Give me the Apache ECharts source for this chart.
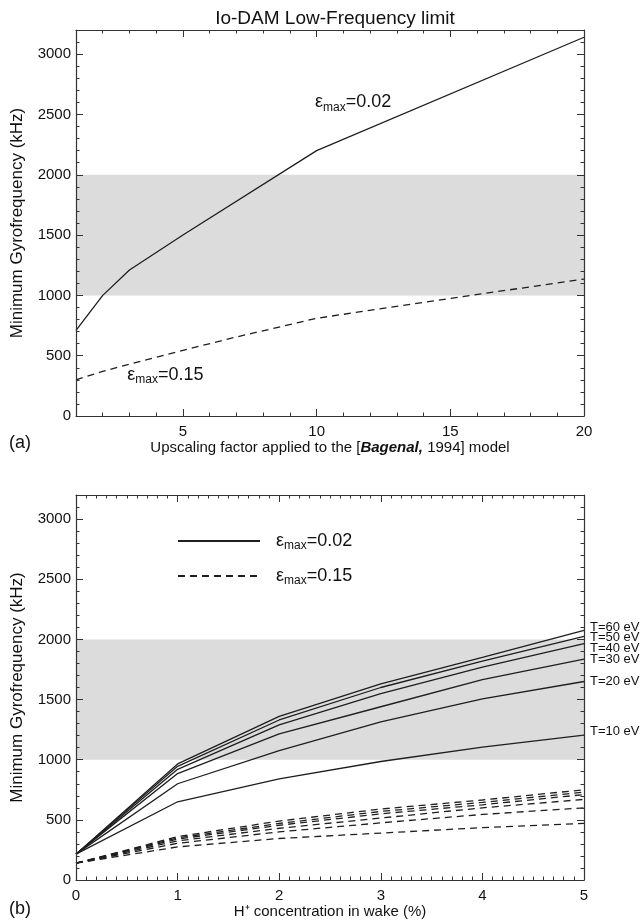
<!DOCTYPE html>
<html><head><meta charset="utf-8">
<script src="https://cdn.jsdelivr.net/npm/echarts@6/dist/echarts.min.js"></script>
<style>html,body{margin:0;padding:0;background:#fff}#c{width:640px;height:921px}</style>
</head><body><div id="c"></div>
<script>
// ---------- DATA ----------
// Panel (a): upscaling factor vs minimum gyrofrequency (kHz)
const aXSolid = [1, 2, 3, 5, 10, 20];
const aYSolid = [710, 1000, 1210, 1500, 2200, 3140];
const aXDash = [1, 2, 3, 5, 7, 10, 15, 20];
const aYDash = [300, 370, 430, 545, 655, 810, 975, 1135];
const aXTicks = [5, 10, 15, 20];
// Panel (b): H+ concentration (%) vs minimum gyrofrequency (kHz)
const bX = [0, 1, 2, 3, 4, 5];
const bXTicks = [0, 1, 2, 3, 4, 5];
const tempLabels = ['T=60 eV', 'T=50 eV', 'T=40 eV', 'T=30 eV', 'T=20 eV', 'T=10 eV'];
const bSolid60 = [215, 965, 1360, 1630, 1850, 2075];
const bSolid50 = [215, 945, 1330, 1600, 1820, 2025];
const bSolid40 = [215, 920, 1290, 1550, 1770, 1965];
const bSolid30 = [215, 885, 1215, 1440, 1665, 1835];
const bSolid20 = [215, 800, 1075, 1315, 1505, 1650];
const bSolid10 = [215, 650, 840, 985, 1105, 1205];
const bDash60 = [140, 360, 490, 590, 665, 750];
const bDash50 = [140, 350, 470, 570, 645, 730];
const bDash40 = [140, 340, 455, 550, 625, 710];
const bDash30 = [140, 325, 430, 515, 600, 670];
const bDash20 = [140, 305, 400, 475, 545, 600];
const bDash10 = [140, 275, 345, 390, 435, 470];
const yTicks = [0, 500, 1000, 1500, 2000, 2500, 3000];
const band = [1000, 2000];
const epsNames = ['εmax=0.02', 'εmax=0.15'];
const epsValues = ['0.02', '0.15'];

// ---------- STYLE ----------
const FONT = '"Liberation Sans", Arial, Helvetica, sans-serif';
const AX = '#333';
const LINE = '#1e1e1e';
const TXT = '#111';
const labelNudge = [-3, 1, 5, 0, 0, -4];

const chart = echarts.init(document.getElementById('c'));

function epsRich(v) { return '{e|ε}{s|max}{e|=' + v + '}'; }
const rich = {
  e: { fontFamily: FONT, fontSize: 18, color: TXT, lineHeight: 20 },
  s: { fontFamily: FONT, fontSize: 12, color: TXT, lineHeight: 12, padding: [10, 0, 0, 0] }
};
const plain = function (v) { return String(v); };

function axesX(gi, min, max, major, minorInt, name) {
  const c = { type: 'value', gridIndex: gi, min: min, max: max, splitLine: { show: false }, z: 5, silent: true };
  const line = { show: true, onZero: false, lineStyle: { color: AX, width: 1.2 } };
  const noLine = { show: false, onZero: false };
  return [
    Object.assign({}, c, { position: 'bottom', axisLine: line,
      name: name, nameLocation: 'middle', nameGap: 24, nameMoveOverlap: false,
      nameTextStyle: { fontFamily: FONT, fontSize: 15, color: TXT },
      axisTick: { show: true, inside: true, length: 7, customValues: major, lineStyle: { color: AX } },
      axisLabel: { show: true, customValues: major, margin: 8, formatter: plain, fontFamily: FONT, fontSize: 15, color: TXT } }),
    Object.assign({}, c, { position: 'bottom', interval: minorInt, axisLine: noLine,
      axisTick: { show: true, inside: true, length: 3.5, lineStyle: { color: AX } }, axisLabel: { show: false } }),
    Object.assign({}, c, { position: 'top', axisLine: line,
      axisTick: { show: true, inside: true, length: 7, customValues: major, lineStyle: { color: AX } }, axisLabel: { show: false } }),
    Object.assign({}, c, { position: 'top', interval: minorInt, axisLine: noLine,
      axisTick: { show: true, inside: true, length: 3.5, lineStyle: { color: AX } }, axisLabel: { show: false } })
  ];
}
function axesY(gi) {
  const c = { type: 'value', gridIndex: gi, min: 0, max: 3200, splitLine: { show: false }, z: 5, silent: true };
  const line = { show: true, onZero: false, lineStyle: { color: AX, width: 1.2 } };
  const noLine = { show: false, onZero: false };
  return [
    Object.assign({}, c, { position: 'left', axisLine: line,
      name: 'Minimum Gyrofrequency (kHz)', nameLocation: 'middle', nameGap: 50, nameMoveOverlap: false,
      nameTextStyle: { fontFamily: FONT, fontSize: 17, color: TXT },
      axisTick: { show: true, inside: true, length: 7, customValues: yTicks, lineStyle: { color: AX } },
      axisLabel: { show: true, customValues: yTicks, margin: 5, formatter: plain, fontFamily: FONT, fontSize: 15, color: TXT } }),
    Object.assign({}, c, { position: 'left', interval: 100, axisLine: noLine,
      axisTick: { show: true, inside: true, length: 3.5, lineStyle: { color: AX } }, axisLabel: { show: false } }),
    Object.assign({}, c, { position: 'right', axisLine: line,
      axisTick: { show: true, inside: true, length: 7, customValues: yTicks, lineStyle: { color: AX } }, axisLabel: { show: false } }),
    Object.assign({}, c, { position: 'right', interval: 100, axisLine: noLine,
      axisTick: { show: true, inside: true, length: 3.5, lineStyle: { color: AX } }, axisLabel: { show: false } })
  ];
}

const xAxis = [].concat(
  axesX(0, 1, 20, aXTicks, 1, 'Upscaling factor applied to the [Bagenal, 1994] model'),
  axesX(1, 0, 5, bXTicks, 0.1, 'H\u207A concentration in wake (%)')
);
// italic bold "Bagenal"
xAxis[0].name = '{n|Upscaling factor applied to the [}{b|Bagenal,}{n| 1994] model}';
xAxis[0].nameTextStyle = Object.assign({}, xAxis[0].nameTextStyle, { rich: {
  n: { fontFamily: FONT, fontSize: 15, color: TXT },
  b: { fontFamily: FONT, fontSize: 15, color: TXT, fontWeight: 'bold', fontStyle: 'italic' }
} });
const yAxis = [].concat(axesY(0), axesY(1));

function pairs(xs, ys) { return xs.map(function (x, i) { return [x, ys[i]]; }); }

function annot(coord, v) {
  return {
    symbol: 'rect', symbolSize: 1, silent: true,
    itemStyle: { color: 'rgba(0,0,0,0)' },
    label: { show: true, position: 'right', distance: 0, formatter: epsRich(v), rich: rich },
    data: [{ coord: coord }]
  };
}
const bandArea = {
  silent: true, itemStyle: { color: '#dcdcdc' },
  data: [[{ yAxis: band[0] }, { yAxis: band[1] }]]
};

const series = [
  { name: 'a-solid', type: 'line', xAxisIndex: 0, yAxisIndex: 0, symbol: 'none', z: 3,
    data: pairs(aXSolid, aYSolid), itemStyle: { color: LINE }, lineStyle: { color: LINE, width: 1.3 },
    markArea: bandArea, markPoint: annot([9.92, 2600], epsValues[0]) },
  { name: 'a-dash', type: 'line', xAxisIndex: 0, yAxisIndex: 0, symbol: 'none', z: 3,
    data: pairs(aXDash, aYDash), itemStyle: { color: LINE }, lineStyle: { color: LINE, width: 1.3, type: [7, 5] },
    markPoint: annot([2.9, 340], epsValues[1]) }
];

const solids = [bSolid60, bSolid50, bSolid40, bSolid30, bSolid20, bSolid10];
const dashes = [bDash60, bDash50, bDash40, bDash30, bDash20, bDash10];
solids.forEach(function (ys, i) {
  const s = { name: epsNames[0], type: 'line', xAxisIndex: 4, yAxisIndex: 4, symbol: 'none', z: 3,
    data: pairs(bX, ys), itemStyle: { color: LINE }, lineStyle: { color: LINE, width: 1.3 },
    endLabel: { show: true, formatter: tempLabels[i], distance: 6, offset: [0, labelNudge[i]],
      fontFamily: FONT, fontSize: 13, color: TXT } };
  if (i === 0) s.markArea = bandArea;
  series.push(s);
});
dashes.forEach(function (ys) {
  series.push({ name: epsNames[1], type: 'line', xAxisIndex: 4, yAxisIndex: 4, symbol: 'none', z: 3,
    data: pairs(bX, ys), itemStyle: { color: LINE }, lineStyle: { color: LINE, width: 1.3, type: [7, 5] } });
});

chart.setOption({
  animation: false,
  backgroundColor: '#fff',
  title: { text: 'Io-DAM Low-Frequency limit', left: 330, top: 4, textAlign: 'center',
    textStyle: { fontFamily: FONT, fontSize: 19, fontWeight: 'normal', color: TXT } },
  grid: [
    { left: 76, right: 56, top: 30, height: 386 },
    { left: 76, right: 56, top: 495, height: 385 }
  ],
  legend: {
    show: true, orient: 'vertical', left: 177, top: 530, padding: 0,
    itemWidth: 82, itemHeight: 14, itemGap: 13, selectedMode: false,
    itemStyle: { opacity: 0, borderWidth: 0 },
    data: epsNames,
    formatter: function (n) { return epsRich(epsValues[epsNames.indexOf(n)]); },
    textStyle: { padding: [0, 0, 0, 11], rich: rich }
  },
  graphic: [
    { type: 'text', left: 9, top: 434, style: { text: '(a)', fontFamily: FONT, fontSize: 18, fill: TXT } },
    { type: 'text', left: 9, top: 900, style: { text: '(b)', fontFamily: FONT, fontSize: 18, fill: TXT } }
  ],
  xAxis: xAxis,
  yAxis: yAxis,
  series: series
});
</script></body></html>
